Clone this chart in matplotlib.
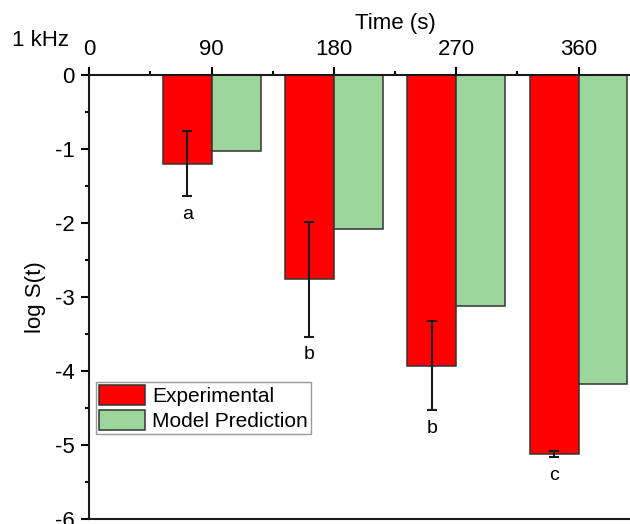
import numpy as np
import matplotlib
matplotlib.use("Agg")
import matplotlib.pyplot as plt
from matplotlib.ticker import MultipleLocator

plt.rcParams['font.family'] = ['Liberation Sans', 'DejaVu Sans']
plt.rcParams['axes.unicode_minus'] = False

# survival data at 1 kHz
times = [90, 180, 270, 360]
experimental = [-1.20, -2.76, -3.93, -5.12]
exp_err = [0.44, 0.775, 0.60, 0.045]
model = [-1.03, -2.08, -3.12, -4.17]
letters = ['a', 'b', 'b', 'c']

bar_w = 36
red = '#ff0000'
green = '#9dd69c'

fig = plt.figure(figsize=(6.3, 5.24), dpi=100)
ax = fig.add_axes([89.3 / 630, 5 / 524, 543.6 / 630, 444 / 524])

t = np.array(times)
ax.bar(t - bar_w / 2, experimental, width=bar_w, color=red,
       edgecolor='#333333', linewidth=1.1, label='Experimental', zorder=2)
ax.bar(t + bar_w / 2, model, width=bar_w, color=green,
       edgecolor='#333333', linewidth=1.1, label='Model Prediction', zorder=2)
ax.errorbar(t - bar_w / 2, experimental, yerr=exp_err, fmt='none',
            ecolor='#1a1a1a', elinewidth=1.5, capsize=3.6, capthick=1.5, zorder=3)

for x, y, e, s in zip(t - bar_w / 2, experimental, exp_err, letters):
    ax.annotate(s, (x, y - e), xytext=(0, -13), textcoords='offset points',
                ha='center', va='center', fontsize=14)

ax.set_xlim(0, 400)
ax.set_ylim(-6, 0)
ax.xaxis.tick_top()
ax.xaxis.set_label_position('top')
ax.set_xticks([0, 90, 180, 270, 360])
ax.xaxis.set_minor_locator(MultipleLocator(45))
ax.set_yticks(range(-6, 1))
ax.yaxis.set_minor_locator(MultipleLocator(0.5))

ax.tick_params(which='major', direction='out', length=6, width=1.5,
               labelsize=16, pad=4.5)
ax.tick_params(which='minor', direction='out', length=3, width=1.5)
ax.tick_params(axis='x', which='both', top=True, bottom=False)
ax.tick_params(axis='y', which='both', right=False)

for sp in ax.spines.values():
    sp.set_linewidth(1.5)
    sp.set_color('#1a1a1a')

ax.set_ylabel('log S(t)', fontsize=16)
ax.yaxis.set_label_coords(-0.1 + (35 - 89.3 + 54.4) / 543.6, 0.5)
ax.set_xlabel('Time (s)', fontsize=16)
ax.xaxis.set_label_coords((395 - 89.3) / 543.6, (519 - 23) / 444)
ax.xaxis.label.set_va('center')
ax.yaxis.label.set_va('center')

fig.text(12 / 630, 1 - 40.5 / 524, '1 kHz', fontsize=16, va='center', ha='left')

leg = ax.legend(loc='upper left', bbox_to_anchor=(0.0118, 0.309), fontsize=15,
                frameon=True, fancybox=False, edgecolor='#999999',
                framealpha=1, borderaxespad=0, borderpad=0.15,
                handlelength=2.2, handleheight=1.09, handletextpad=0.36,
                labelspacing=0.18)
leg.get_frame().set_linewidth(1)

fig.savefig('out.png', dpi=100)
